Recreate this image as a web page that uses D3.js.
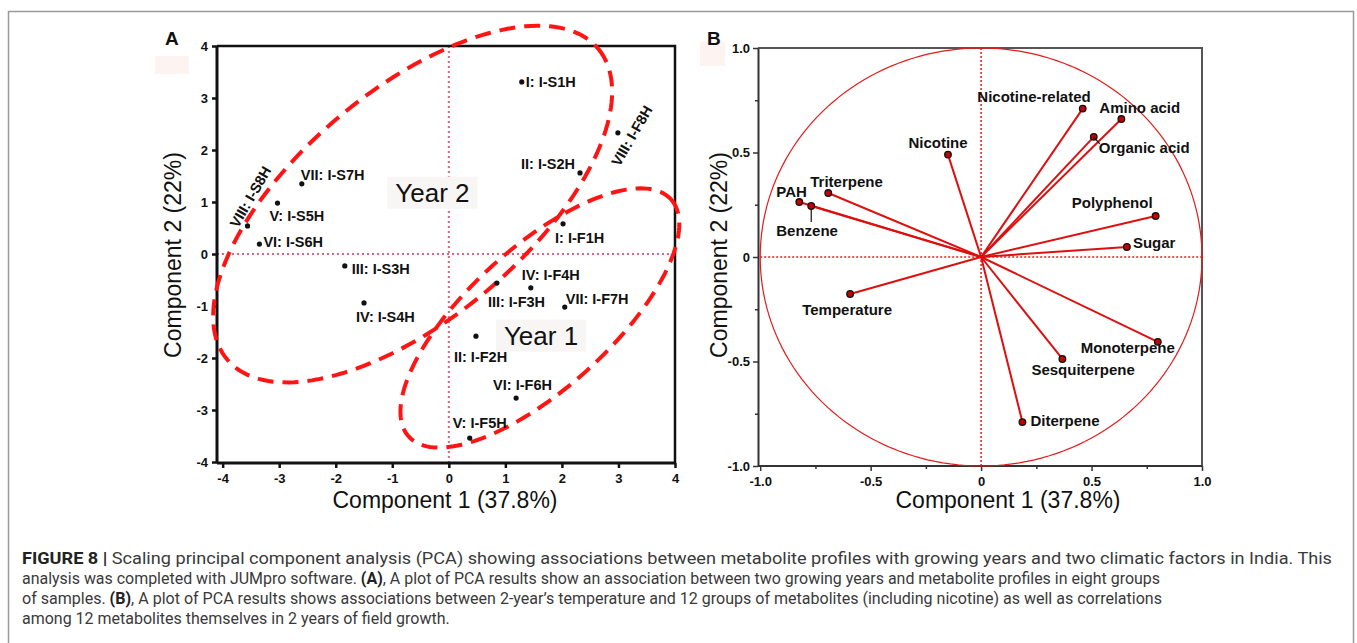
<!DOCTYPE html>
<html lang="en">
<head>
<meta charset="UTF-8">
<title>Figure 8 – PCA of metabolite profiles</title>
<style>
  body { margin: 0; background: #fff; }
  svg text { font-family: Arial, "Liberation Sans", sans-serif; }
  .tick text { font: bold 13px Arial, "Liberation Sans", sans-serif; fill: #111; }
  .axA .tick line { stroke: #111; stroke-width: 2.5; }
  .axB .tick line { stroke: #333; stroke-width: 1.5; }
  .sample { font-weight: bold; font-size: 14.5px; fill: #111; }
  .varlab { font-weight: bold; font-size: 15px; fill: #111; }
  .title  { font-size: 23px; fill: #111; }
  .panel  { font-weight: bold; font-size: 19px; fill: #111; }
  .year   { font-size: 26px; fill: #111; }
  .caption { font-family: "Liberation Sans Narrow", "Arial Narrow", Roboto, sans-serif; font-size: 16px; fill: #3a3a3a; }
</style>
</head>
<body>
<svg id="fig" width="1357" height="643"></svg>
<script src="https://d3js.org/d3.v7.min.js"></script>
<script>
// ---------- Panel A: sample scores ----------
const SAMPLE_NAMES = ["I: I-S1H","II: I-S2H","III: I-S3H","IV: I-S4H","V: I-S5H","VI: I-S6H","VII: I-S7H","VIII: I-S8H",
                      "I: I-F1H","II: I-F2H","III: I-F3H","IV: I-F4H","V: I-F5H","VI: I-F6H","VII: I-F7H","VIII: I-F8H"];
const PC1_SCORES = [1.29, 2.32, -1.84, -1.50, -3.03, -3.35, -2.60, -3.56, 2.02, 0.48, 0.85, 1.45, 0.37, 1.19, 2.05, 2.99];
const PC2_SCORES = [3.31, 1.56, -0.23, -0.94, 0.98, 0.19, 1.35, 0.54, 0.58, -1.58, -0.56, -0.65, -3.54, -2.77, -1.02, 2.33];
const A_TICKS = [-4, -3, -2, -1, 0, 1, 2, 3, 4];

// group ellipses (centre and two semi-axis vectors, in score units)
const GROUPS = ["Year 2", "Year 1"];
const GROUP_CENTER = [[-0.64, 0.96], [1.61, -1.23]];
const GROUP_AXIS1 = [[3.28, 2.99], [2.32, 2.28]];
const GROUP_AXIS2 = [[1.30, -1.68], [0.835, -1.008]];
const GROUP_LABEL_AT = [[-0.29, 1.18], [1.63, -1.57]];

// ---------- Panel B: loadings ----------
const VARIABLES = ["Nicotine","Nicotine-related","Amino acid","Organic acid","Polyphenol","Sugar",
                   "Monoterpene","Sesquiterpene","Diterpene","Temperature","PAH","Benzene","Triterpene"];
const LOAD_PC1 = [-0.15, 0.46, 0.635, 0.51, 0.79, 0.66, 0.80, 0.368, 0.187, -0.593, -0.823, -0.769, -0.692];
const LOAD_PC2 = [0.49, 0.71, 0.66, 0.575, 0.196, 0.048, -0.406, -0.488, -0.79, -0.177, 0.263, 0.244, 0.306];
const B_TICKS = [-1, -0.5, 0, 0.5, 1];
const B_MINOR = [-0.75, -0.25, 0.25, 0.75];

// label placement (pixel offsets from the point)
const A_LAB = {
  "I: I-S1H":{dx:4,dy:5}, "II: I-S2H":{dx:-5,dy:-4,a:"end"}, "III: I-S3H":{dx:7,dy:8},
  "IV: I-S4H":{dx:-8,dy:19}, "V: I-S5H":{dx:-8,dy:18}, "VI: I-S6H":{dx:4,dy:3},
  "VII: I-S7H":{dx:-1,dy:-4}, "VIII: I-S8H":{dx:3,dy:-29,a:"middle",rot:-60},
  "I: I-F1H":{dx:-8,dy:19}, "II: I-F2H":{dx:-22,dy:26}, "III: I-F3H":{dx:-9,dy:24},
  "IV: I-F4H":{dx:-9,dy:-8}, "V: I-F5H":{dx:-17,dy:-10}, "VI: I-F6H":{dx:-23,dy:-8},
  "VII: I-F7H":{dx:1,dy:-3}, "VIII: I-F8H":{dx:14,dy:3,a:"middle",rot:-60}
};
const B_LAB = {
  "Nicotine":{dx:-10,dy:-7,a:"middle"}, "Nicotine-related":{dx:8,dy:-7,a:"end"},
  "Amino acid":{dx:-22,dy:-6}, "Organic acid":{dx:5,dy:16,lead:[0,0,6,7]},
  "Polyphenol":{dx:-3,dy:-8,a:"end"}, "Sugar":{dx:6,dy:1},
  "Monoterpene":{dx:17,dy:11,a:"end"}, "Sesquiterpene":{dx:-31,dy:16},
  "Diterpene":{dx:8,dy:4}, "Temperature":{dx:-3,dy:21,a:"middle"},
  "PAH":{dx:-23,dy:-5}, "Benzene":{dx:-35,dy:30,lead:[0,4,0,16]}, "Triterpene":{dx:-18,dy:-6}
};

// caption lines; w = target line width (null: same squeeze as the lines above)
const CAPTION = [
  {w:1310, parts:[["FIGURE 8 | ",1],["Scaling principal component analysis (PCA) showing associations between metabolite profiles with growing years and two climatic factors in India. This",0]]},
  {w:1138, parts:[["analysis was completed with JUMpro software. ",0],["(A)",1],[", A plot of PCA results show an association between two growing years and metabolite profiles in eight groups",0]]},
  {w:1140, parts:[["of samples. ",0],["(B)",1],[", A plot of PCA results shows associations between 2-year\u2019s temperature and 12 groups of metabolites (including nicotine) as well as correlations",0]]},
  {w:null, parts:[["among 12 metabolites themselves in 2 years of field growth.",0]]}
];

const svg = d3.select("#fig");

// page frame
svg.append("path").attr("d","M8.5,643 V11.5 H1353.5 V643")
  .attr("fill","none").attr("stroke","#9a9a9a").attr("stroke-width",1.5);

// ================= Panel A =================
const xA = d3.scaleLinear().domain([-4.1, 4]).range([217, 675]);
const yA = d3.scaleLinear().domain([-4, 4]).range([462, 46]);
const gA = svg.append("g");

gA.append("rect").attr("x",155).attr("y",56).attr("width",34).attr("height",18).attr("fill","#fdf3f1");

// dotted zero lines
gA.append("line").attr("x1",xA(0)).attr("x2",xA(0)).attr("y1",yA(4)).attr("y2",yA(-4))
  .attr("stroke","#e0627f").attr("stroke-width",2).attr("stroke-dasharray","2,3");
gA.append("line").attr("x1",xA.range()[0]).attr("x2",xA.range()[1]).attr("y1",yA(0)).attr("y2",yA(0))
  .attr("stroke","#e0627f").attr("stroke-width",2).attr("stroke-dasharray","2,3");

// frame top/right
gA.append("path").attr("d",`M${xA.range()[0]},${yA(4)} H${xA.range()[1]} V${yA(-4)+1}`)
  .attr("fill","none").attr("stroke","#111").attr("stroke-width",2.5);

const axAx = gA.append("g").attr("class","axA").attr("transform",`translate(0,${yA(-4)+1})`)
  .call(d3.axisBottom(xA).tickValues(A_TICKS).tickSize(5).tickSizeOuter(0).tickFormat(d=>String(d)));
const axAy = gA.append("g").attr("class","axA").attr("transform",`translate(${xA.range()[0]},0)`)
  .call(d3.axisLeft(yA).tickValues(A_TICKS).tickSize(5).tickSizeOuter(0).tickFormat(d=>String(d)));
[axAx, axAy].forEach(a=>a.select(".domain").attr("stroke","#111").attr("stroke-width",3));
axAx.select(".domain").attr("d",`M${xA.range()[0]},0 H${xA.range()[1]}`);
axAy.select(".domain").attr("d",`M0,${yA(4)} V${yA(-4)+1}`);
axAx.selectAll(".tick text").attr("dy","0.95em");
axAy.selectAll(".tick text").attr("dx","-1");

// year labels with faint boxes
GROUPS.forEach((g,i)=>{
  const t = gA.append("text").attr("class","year")
    .attr("x",xA(GROUP_LABEL_AT[i][0])).attr("y",yA(GROUP_LABEL_AT[i][1]))
    .attr("text-anchor","middle").attr("dominant-baseline","central").text(g);
  const bb = t.node().getBBox();
  gA.insert("rect","text.year").attr("x",bb.x-8).attr("y",bb.y-1).attr("width",bb.width+16).attr("height",bb.height+2)
    .attr("fill","#f8f5f5");
});

// ellipses
const line = d3.line().curve(d3.curveLinearClosed);
GROUPS.forEach((g,i)=>{
  const [cx,cy] = GROUP_CENTER[i], [ax,ay] = GROUP_AXIS1[i], [bx,by] = GROUP_AXIS2[i];
  const pts = d3.range(0, 360, 2).map(deg=>{
    const t = deg*Math.PI/180;
    return [xA(cx + ax*Math.cos(t) + bx*Math.sin(t)), yA(cy + ay*Math.cos(t) + by*Math.sin(t))];
  });
  gA.append("path").attr("d",line(pts)).attr("fill","none")
    .attr("stroke","#ff1414").attr("stroke-width",4).attr("stroke-dasharray","16,9");
});

// points + labels
SAMPLE_NAMES.forEach((n,i)=>{
  const px = xA(PC1_SCORES[i]), py = yA(PC2_SCORES[i]), L = A_LAB[n];
  gA.append("circle").attr("cx",px).attr("cy",py).attr("r",2.6).attr("fill","#111");
  const t = gA.append("text").attr("class","sample").attr("text-anchor",L.a||"start").text(n);
  if (L.rot) {
    t.attr("dominant-baseline","central")
     .attr("transform",`translate(${px+L.dx},${py+L.dy}) rotate(${L.rot})`);
  } else {
    t.attr("x",px+L.dx).attr("y",py+L.dy);
  }
});

gA.append("text").attr("class","panel").attr("x",165).attr("y",45).text("A");
gA.append("text").attr("class","title").attr("x",445).attr("y",508).attr("text-anchor","middle").text("Component 1 (37.8%)");
gA.append("text").attr("class","title").attr("transform","translate(181,255) rotate(-90)")
  .attr("text-anchor","middle").text("Component 2 (22%)");

// ================= Panel B =================
const xB = d3.scaleLinear().domain([-1.01, 1]).range([758, 1202]);
const yB = d3.scaleLinear().domain([-1, 1]).range([466, 48]);
const gB = svg.append("g");

gB.append("rect").attr("x",700).attr("y",42).attr("width",25).attr("height",24).attr("fill","#fdf3f1");

gB.append("path").attr("d",`M${xB.range()[0]},${yB(1)} H${xB(1)} V${yB(-1)}`)
  .attr("fill","none").attr("stroke","#555").attr("stroke-width",2);

const fmtB = d => d===0 ? "0" : d.toFixed(1);
const axBx = gB.append("g").attr("class","axB").attr("transform",`translate(0,${yB(-1)})`)
  .call(d3.axisBottom(xB).tickValues(B_TICKS).tickSize(5).tickSizeOuter(0).tickFormat(fmtB));
gB.append("g").attr("class","axB").attr("transform",`translate(0,${yB(-1)})`)
  .call(d3.axisBottom(xB).tickValues(B_MINOR).tickSize(3).tickFormat(""))
  .select(".domain").remove();
const axBy = gB.append("g").attr("class","axB").attr("transform",`translate(${xB.range()[0]},0)`)
  .call(d3.axisLeft(yB).tickValues(B_TICKS).tickSize(5).tickSizeOuter(0).tickFormat(fmtB));
gB.append("g").attr("class","axB").attr("transform",`translate(${xB.range()[0]},0)`)
  .call(d3.axisLeft(yB).tickValues(B_MINOR).tickSize(3).tickFormat(""))
  .select(".domain").remove();
[axBx, axBy].forEach(a=>a.select(".domain").attr("stroke","#333").attr("stroke-width",2));
axBx.select(".domain").attr("d",`M${xB.range()[0]},0 H${xB(1)}`);
axBx.selectAll(".tick text").attr("dy","0.95em");

// unit circle and dotted zero lines
const circ = d3.range(0, 361, 2).map(deg=>{
  const t = deg*Math.PI/180;
  return [xB(Math.cos(t)), yB(Math.sin(t))];
});
gB.append("path").attr("d",d3.line()(circ)).attr("fill","none").attr("stroke","#e31b1b").attr("stroke-width",1.2);
gB.append("line").attr("x1",xB(-1)).attr("x2",xB(1)).attr("y1",yB(0)).attr("y2",yB(0))
  .attr("stroke","#e31b1b").attr("stroke-width",1.5).attr("stroke-dasharray","2,2");
gB.append("line").attr("x1",xB(0)).attr("x2",xB(0)).attr("y1",yB(1)).attr("y2",yB(-1))
  .attr("stroke","#e31b1b").attr("stroke-width",1.5).attr("stroke-dasharray","2,2");

// loading vectors
VARIABLES.forEach((v,i)=>{
  const px = xB(LOAD_PC1[i]), py = yB(LOAD_PC2[i]), L = B_LAB[v];
  gB.append("line").attr("x1",xB(0)).attr("y1",yB(0)).attr("x2",px).attr("y2",py)
    .attr("stroke","#dd0f0f").attr("stroke-width",2);
  gB.append("circle").attr("cx",px).attr("cy",py).attr("r",3.3)
    .attr("fill","#c40000").attr("stroke","#111").attr("stroke-width",1.3);
  if (L.lead) gB.append("line").attr("x1",px+L.lead[0]).attr("y1",py+L.lead[1])
    .attr("x2",px+L.lead[2]).attr("y2",py+L.lead[3]).attr("stroke","#111").attr("stroke-width",1.2);
  gB.append("text").attr("class","varlab").attr("x",px+L.dx).attr("y",py+L.dy)
    .attr("text-anchor",L.a||"start").text(v);
});

gB.append("text").attr("class","panel").attr("x",707).attr("y",45).text("B");
gB.append("text").attr("class","title").attr("x",1008).attr("y",508).attr("text-anchor","middle").text("Component 1 (37.8%)");
gB.append("text").attr("class","title").attr("transform","translate(727,255) rotate(-90)")
  .attr("text-anchor","middle").text("Component 2 (22%)");

// ================= Caption =================
const squeeze = [];
CAPTION.forEach((ln,i)=>{
  const t = svg.append("text").attr("class","caption").attr("x",22).attr("y",564+i*20);
  ln.parts.forEach(([s,b])=>{
    t.append("tspan").attr("font-weight",b?"bold":null).attr("fill",b?"#222":null).text(s);
  });
  const natural = t.node().getComputedTextLength();
  let w = ln.w;
  if (w) { if (i>0) squeeze.push(w/natural); }
  else w = natural*d3.mean(squeeze);
  t.attr("textLength",w).attr("lengthAdjust","spacingAndGlyphs");
});
</script>
</body>
</html>
